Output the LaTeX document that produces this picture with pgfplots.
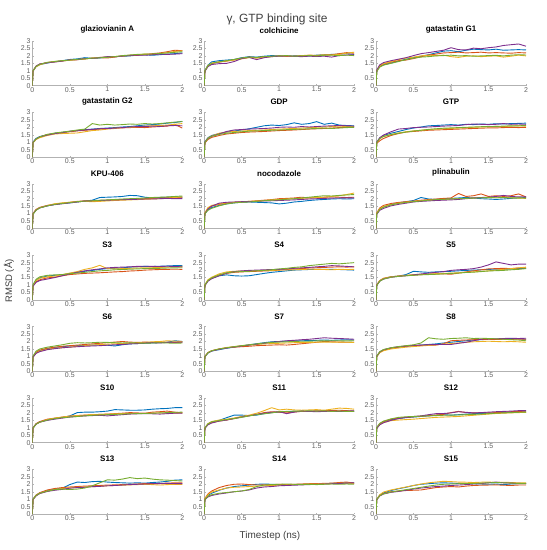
\documentclass[border=0pt]{standalone}
\usepackage{fontspec}
\setmainfont{Liberation Sans}
\usepackage{pgfplots}
\usepackage{pgfplotstable}
\pgfplotsset{compat=1.18}
\definecolor{mb}{rgb}{0,0.447,0.741}
\definecolor{mr}{rgb}{0.85,0.325,0.098}
\definecolor{my}{rgb}{0.929,0.694,0.125}
\definecolor{mp}{rgb}{0.494,0.184,0.556}
\definecolor{mg}{rgb}{0.466,0.674,0.188}
\pgfplotsset{panel/.style={
 scale only axis, width=150bp, height=44.7bp, anchor=south west,
 xmin=0,xmax=2,ymin=0,ymax=3,
 axis x line*=bottom, axis y line*=left,
 axis line style={draw=black!30, line width=0.5bp, -},
 xtick={0,0.5,1,1.5,2}, ytick={0,0.5,1,1.5,2,2.5,3},
 tick style={draw=black!30, line width=0.4bp}, major tick length=1.5bp, tick align=inside,
 tick label style={font=\fontsize{7}{7}\selectfont, text=black!62},
 /pgf/number format/assume math mode=true,
 xticklabel style={inner sep=1.3bp}, yticklabel style={inner sep=1.5bp},
 title style={font=\bfseries\fontsize{8}{8}\selectfont, at={(0.5,1)}, anchor=south, yshift=0.3bp, inner sep=1bp},
 every axis plot/.append style={line width=0.9bp, no marks, line join=round},
}}
\newcommand\panel[4]{%
\begin{axis}[panel, at={(#1bp,#2bp)}, title={#3}]
\addplot[mb] table[x index=0,y index=1]{#4};
\addplot[mr] table[x index=0,y index=2]{#4};
\addplot[my] table[x index=0,y index=3]{#4};
\addplot[mp] table[x index=0,y index=4]{#4};
\addplot[mg] table[x index=0,y index=5]{#4};
\end{axis}}

\pgfplotstableread{
x b r y p g
0    0 0 0 0 0
0.01 1.00 0.98 1.02 0.99 1.00
0.05 1.28 1.30 1.27 1.32 1.29
0.1  1.42 1.45 1.40 1.46 1.43
0.2  1.52 1.55 1.56 1.54 1.57
0.3  1.62 1.60 1.63 1.59 1.62
0.4  1.68 1.66 1.67 1.65 1.68
0.5  1.76 1.72 1.70 1.74 1.72
0.6  1.80 1.74 1.76 1.75 1.77
0.7  1.88 1.80 1.79 1.82 1.80
0.8  1.84 1.85 1.86 1.83 1.85
0.9  1.86 1.88 1.90 1.89 1.87
1.0  1.92 1.86 1.93 1.95 1.91
1.1  1.95 1.92 1.96 1.94 1.95
1.2  1.97 2.00 1.98 1.99 2.02
1.3  2.00 2.02 2.05 2.03 2.06
1.4  2.05 2.04 2.08 2.05 2.10
1.5  2.08 2.10 2.12 2.04 2.12
1.6  2.04 2.15 2.10 2.08 2.13
1.7  2.08 2.20 2.16 2.12 2.16
1.8  2.12 2.28 2.22 2.10 2.20
1.9  2.15 2.38 2.30 2.12 2.24
2.0  2.20 2.35 2.34 2.15 2.28
}\tA
\pgfplotstableread{
x b r y p g
0    0 0 0 0 0
0.01 1.02 0.98 1.00 0.96 1.00
0.05 1.38 1.32 1.35 1.28 1.34
0.1  1.60 1.48 1.52 1.42 1.50
0.2  1.68 1.58 1.60 1.48 1.60
0.3  1.72 1.65 1.66 1.50 1.68
0.4  1.76 1.74 1.72 1.62 1.76
0.5  1.88 1.84 1.80 1.82 1.86
0.6  1.95 1.92 1.88 1.90 1.92
0.7  1.92 1.88 1.85 1.75 1.90
0.8  1.98 1.94 1.90 1.88 1.95
0.9  2.02 1.96 1.95 1.95 1.98
1.0  2.00 2.00 1.98 1.98 2.00
1.1  1.98 1.97 2.00 2.00 2.02
1.2  2.00 1.98 1.96 1.97 1.98
1.3  2.02 2.00 2.02 1.95 2.00
1.4  2.00 2.04 2.05 1.98 2.02
1.5  2.05 2.02 2.04 1.96 2.00
1.6  2.08 2.05 2.08 1.98 2.04
1.7  2.10 2.08 2.06 1.92 2.05
1.8  2.12 2.15 2.10 2.02 2.02
1.9  2.15 2.22 2.18 2.06 2.05
2.0  2.10 2.18 2.25 2.08 2.02
}\tB
\pgfplotstableread{
x b r y p g
0    0 0 0 0 0
0.01 0.98 1.00 1.02 1.05 0.95
0.05 1.30 1.32 1.35 1.40 1.25
0.1  1.40 1.45 1.48 1.55 1.38
0.2  1.52 1.58 1.62 1.68 1.50
0.3  1.65 1.68 1.75 1.78 1.62
0.4  1.78 1.72 1.85 1.88 1.75
0.5  1.88 1.82 1.92 2.02 1.85
0.6  1.98 1.95 2.00 2.15 1.92
0.7  2.08 2.05 2.05 2.22 1.95
0.8  2.20 2.12 2.02 2.30 2.00
0.9  2.32 2.20 2.05 2.38 2.02
1.0  2.35 2.22 1.95 2.55 2.05
1.1  2.28 2.25 1.90 2.42 2.00
1.2  2.38 2.20 1.98 2.40 2.02
1.3  2.45 2.22 2.00 2.52 1.98
1.4  2.42 2.25 1.95 2.48 2.00
1.5  2.40 2.20 1.98 2.55 2.02
1.6  2.45 2.22 2.00 2.60 2.04
1.7  2.38 2.20 1.92 2.70 2.00
1.8  2.40 2.18 1.98 2.75 2.05
1.9  2.42 2.22 2.05 2.80 2.08
2.0  2.40 2.20 2.00 2.65 2.06
}\tC
\pgfplotstableread{
x b r y p g
0    0 0 0 0 0
0.01 1.00 0.98 0.96 1.00 0.98
0.05 1.25 1.20 1.18 1.22 1.22
0.1  1.38 1.35 1.30 1.36 1.36
0.2  1.50 1.52 1.45 1.48 1.52
0.3  1.60 1.58 1.55 1.58 1.62
0.4  1.66 1.65 1.58 1.64 1.68
0.5  1.72 1.70 1.60 1.74 1.74
0.6  1.78 1.76 1.62 1.78 1.82
0.7  1.84 1.80 1.70 1.82 1.88
0.8  1.88 1.84 1.78 1.86 2.25
0.9  1.92 1.88 1.82 1.90 2.15
1.0  1.95 1.92 1.88 1.92 2.20
1.1  1.98 1.95 1.92 1.94 2.15
1.2  2.02 1.96 1.98 1.98 2.18
1.3  2.05 1.98 2.00 2.02 2.22
1.4  2.10 2.00 2.04 2.05 2.20
1.5  2.15 1.98 2.08 2.05 2.25
1.6  2.18 2.02 2.10 2.08 2.22
1.7  2.22 2.05 2.12 2.06 2.25
1.8  2.28 2.08 2.15 2.10 2.30
1.9  2.32 2.20 2.20 2.12 2.35
2.0  2.40 1.95 2.25 2.10 2.38
}\tD
\pgfplotstableread{
x b r y p g
0    0 0 0 0 0
0.01 1.02 0.95 1.00 1.00 0.98
0.05 1.30 1.18 1.28 1.25 1.25
0.1  1.45 1.32 1.42 1.40 1.40
0.2  1.58 1.45 1.60 1.55 1.52
0.3  1.68 1.55 1.68 1.72 1.60
0.4  1.75 1.60 1.72 1.82 1.65
0.5  1.82 1.65 1.75 1.85 1.70
0.6  1.90 1.68 1.78 1.88 1.74
0.7  2.00 1.70 1.80 1.90 1.76
0.8  2.10 1.72 1.82 1.92 1.78
0.9  2.15 1.75 1.85 1.95 1.80
1.0  2.12 1.78 1.88 2.00 1.82
1.1  2.18 1.80 1.90 2.02 1.84
1.2  2.30 1.82 1.92 2.00 1.86
1.3  2.20 1.85 1.95 2.05 1.88
1.4  2.25 1.88 1.98 2.02 1.90
1.5  2.38 1.90 2.00 2.05 1.92
1.6  2.20 1.92 2.02 2.08 1.95
1.7  2.28 1.95 2.05 2.10 1.92
1.8  2.15 1.98 2.08 2.12 1.95
1.9  2.12 2.00 2.05 2.10 1.98
2.0  2.10 2.02 2.04 2.08 2.00
}\tE
\pgfplotstableread{
x b r y p g
0    0 0 0 0 0
0.01 1.00 0.92 0.98 1.00 0.98
0.05 1.28 1.10 1.25 1.30 1.24
0.1  1.45 1.25 1.40 1.48 1.38
0.2  1.60 1.45 1.52 1.70 1.50
0.3  1.72 1.58 1.62 1.88 1.60
0.4  1.85 1.68 1.70 1.92 1.68
0.5  1.95 1.72 1.76 1.98 1.75
0.6  2.02 1.76 1.80 2.00 1.80
0.7  2.10 1.80 1.85 2.02 1.86
0.8  2.12 1.82 1.88 2.05 1.90
0.9  2.15 1.84 1.90 2.08 1.94
1.0  2.18 1.86 1.92 2.10 1.96
1.1  2.15 1.88 1.95 2.12 1.98
1.2  2.20 1.90 1.98 2.18 2.00
1.3  2.18 1.92 2.00 2.22 2.02
1.4  2.22 1.94 2.02 2.20 2.04
1.5  2.20 1.96 2.04 2.18 2.05
1.6  2.24 1.96 2.06 2.20 2.06
1.7  2.22 1.98 2.05 2.25 2.08
1.8  2.25 2.00 2.08 2.20 2.10
1.9  2.26 1.98 2.10 2.22 2.10
2.0  2.28 2.00 2.08 2.20 2.12
}\tF
\pgfplotstableread{
x b r y p g
0    0 0 0 0 0
0.01 0.98 1.00 1.00 0.98 0.96
0.05 1.25 1.28 1.26 1.24 1.22
0.1  1.40 1.42 1.40 1.38 1.38
0.2  1.52 1.55 1.54 1.52 1.52
0.3  1.62 1.64 1.66 1.60 1.62
0.4  1.68 1.70 1.72 1.66 1.68
0.5  1.72 1.76 1.76 1.72 1.74
0.6  1.78 1.82 1.80 1.78 1.80
0.7  1.84 1.86 1.82 1.84 1.84
0.8  1.90 1.84 1.80 1.86 1.86
0.9  2.08 1.88 1.82 1.88 1.90
1.0  2.10 1.90 1.85 1.90 1.92
1.1  2.12 1.92 1.88 1.92 1.95
1.2  2.15 1.94 1.90 1.93 1.98
1.3  2.22 1.96 1.92 1.95 2.00
1.4  2.20 1.98 1.94 1.96 2.02
1.5  2.10 2.00 1.96 1.98 2.05
1.6  2.05 2.02 1.98 1.98 2.08
1.7  2.08 2.05 2.00 2.00 2.10
1.8  2.10 2.06 2.04 2.02 2.12
1.9  2.12 2.08 2.08 2.00 2.15
2.0  2.10 2.10 2.12 2.00 2.18
}\tG
\pgfplotstableread{
x b r y p g
0    0 0 0 0 0
0.01 1.00 1.02 1.05 1.00 0.98
0.05 1.25 1.35 1.40 1.30 1.22
0.1  1.40 1.50 1.55 1.50 1.35
0.2  1.55 1.62 1.65 1.70 1.52
0.3  1.65 1.70 1.72 1.76 1.65
0.4  1.72 1.75 1.76 1.78 1.72
0.5  1.76 1.78 1.80 1.80 1.76
0.6  1.78 1.82 1.82 1.80 1.78
0.7  1.76 1.86 1.85 1.82 1.82
0.8  1.74 1.90 1.88 1.85 1.86
0.9  1.72 1.94 1.92 1.86 1.90
1.0  1.65 2.00 1.95 1.88 1.92
1.1  1.70 2.02 1.98 1.90 1.96
1.2  1.78 2.05 2.00 1.92 2.00
1.3  1.82 2.10 2.02 1.95 2.05
1.4  1.88 2.05 2.05 1.98 2.10
1.5  1.92 2.08 2.08 2.00 2.15
1.6  1.95 2.10 2.10 2.02 2.20
1.7  1.98 2.12 2.15 2.04 2.18
1.8  2.00 2.10 2.20 2.05 2.22
1.9  1.98 2.08 2.28 2.06 2.25
2.0  2.00 2.10 2.38 2.05 2.28
}\tH
\pgfplotstableread{
x b r y p g
0    0 0 0 0 0
0.01 1.00 1.05 1.02 0.95 0.98
0.05 1.30 1.38 1.32 1.22 1.28
0.1  1.45 1.55 1.48 1.35 1.42
0.2  1.62 1.68 1.60 1.52 1.58
0.3  1.72 1.75 1.70 1.62 1.68
0.4  1.80 1.80 1.76 1.70 1.75
0.5  1.88 1.84 1.82 1.78 1.80
0.6  2.08 1.90 1.86 1.82 1.85
0.7  1.98 1.94 1.90 1.85 1.90
0.8  1.95 1.98 1.92 1.88 1.94
0.9  2.00 2.02 1.95 1.90 1.96
1.0  2.02 2.05 1.98 1.92 1.98
1.1  2.05 2.35 2.00 1.95 2.00
1.2  2.08 2.15 2.02 2.00 2.02
1.3  2.05 2.20 2.05 2.05 2.04
1.4  2.00 2.32 2.08 2.08 2.06
1.5  1.98 2.15 2.06 2.10 2.08
1.6  1.95 2.20 2.10 2.15 2.06
1.7  1.98 2.15 2.08 2.22 2.08
1.8  2.02 2.20 2.06 2.15 2.05
1.9  2.05 2.32 2.04 2.12 2.06
2.0  2.08 2.12 2.02 2.12 2.04
}\tI
\pgfplotstableread{
x b r y p g
0    0 0 0 0 0
0.01 1.00 0.95 1.00 0.92 1.02
0.05 1.32 1.22 1.30 1.18 1.38
0.1  1.48 1.35 1.45 1.30 1.55
0.2  1.60 1.48 1.55 1.40 1.65
0.3  1.65 1.52 1.60 1.50 1.68
0.4  1.68 1.62 1.70 1.62 1.70
0.5  1.78 1.70 1.80 1.75 1.76
0.6  1.85 1.74 1.90 1.85 1.80
0.7  1.92 1.78 2.05 1.95 1.85
0.8  1.98 1.80 2.15 2.02 1.90
0.9  2.05 1.82 2.32 2.08 1.95
1.0  2.10 1.85 2.10 2.15 1.98
1.1  2.12 1.88 2.08 2.18 2.02
1.2  2.15 1.90 2.10 2.20 2.04
1.3  2.20 1.94 2.12 2.22 2.06
1.4  2.22 1.96 2.14 2.25 2.08
1.5  2.25 2.00 2.15 2.26 2.10
1.6  2.24 2.02 2.16 2.25 2.12
1.7  2.26 2.04 2.18 2.24 2.12
1.8  2.28 2.05 2.20 2.26 2.14
1.9  2.30 2.06 2.22 2.24 2.15
2.0  2.30 2.05 2.25 2.22 2.16
}\tJ
\pgfplotstableread{
x b r y p g
0    0 0 0 0 0
0.01 1.00 0.98 1.02 0.96 1.00
0.05 1.30 1.28 1.35 1.25 1.30
0.1  1.45 1.45 1.52 1.42 1.48
0.2  1.62 1.65 1.75 1.62 1.68
0.3  1.68 1.78 1.88 1.80 1.82
0.4  1.62 1.85 1.92 1.90 1.88
0.5  1.60 1.88 1.94 1.95 1.90
0.6  1.62 1.90 1.95 1.98 1.92
0.7  1.70 1.92 1.96 2.00 1.95
0.8  1.78 1.94 1.98 2.02 1.98
0.9  1.85 1.96 1.98 2.04 2.02
1.0  1.90 2.00 2.00 2.05 2.08
1.1  1.95 2.04 2.02 2.08 2.12
1.2  2.00 2.08 2.02 2.12 2.18
1.3  2.02 2.10 2.04 2.15 2.22
1.4  2.04 2.14 2.06 2.18 2.30
1.5  2.05 2.16 2.05 2.22 2.35
1.6  2.06 2.18 2.04 2.25 2.40
1.7  2.05 2.20 2.02 2.30 2.45
1.8  2.04 2.22 2.05 2.28 2.42
1.9  2.02 2.20 2.04 2.25 2.46
2.0  2.00 2.22 2.05 2.22 2.50
}\tK
\pgfplotstableread{
x b r y p g
0    0 0 0 0 0
0.01 0.98 1.00 1.00 0.98 0.96
0.05 1.28 1.30 1.30 1.26 1.25
0.1  1.42 1.45 1.44 1.40 1.40
0.2  1.55 1.55 1.55 1.52 1.52
0.3  1.60 1.60 1.60 1.58 1.58
0.4  1.70 1.64 1.65 1.62 1.62
0.5  1.92 1.66 1.70 1.68 1.65
0.6  1.88 1.70 1.72 1.74 1.68
0.7  1.85 1.72 1.74 1.80 1.70
0.8  1.88 1.74 1.76 1.85 1.72
0.9  1.90 1.75 1.78 1.90 1.75
1.0  1.92 1.72 1.80 1.98 1.78
1.1  1.95 1.80 1.82 2.02 1.80
1.2  1.98 1.88 1.85 2.05 1.84
1.3  2.00 1.95 1.88 2.10 1.86
1.4  2.02 2.02 1.92 2.20 1.90
1.5  2.05 2.08 1.95 2.35 1.94
1.6  2.06 2.10 2.00 2.55 1.96
1.7  2.05 2.12 2.05 2.45 1.98
1.8  2.08 2.10 2.10 2.35 2.02
1.9  2.10 2.14 2.15 2.40 2.05
2.0  2.12 2.15 2.20 2.40 2.10
}\tL
\pgfplotstableread{
x b r y p g
0    0 0 0 0 0
0.01 0.98 1.00 0.96 0.95 1.02
0.05 1.25 1.28 1.22 1.20 1.35
0.1  1.38 1.42 1.35 1.32 1.50
0.2  1.52 1.55 1.48 1.45 1.62
0.3  1.60 1.62 1.55 1.52 1.70
0.4  1.65 1.68 1.58 1.58 1.78
0.5  1.70 1.72 1.62 1.62 1.88
0.6  1.72 1.76 1.68 1.65 1.92
0.7  1.74 1.80 1.72 1.68 1.90
0.8  1.76 1.84 1.76 1.70 1.92
0.9  1.78 1.88 1.80 1.72 1.95
1.0  1.75 1.92 1.82 1.75 1.94
1.1  1.70 1.96 1.85 1.78 1.92
1.2  1.78 2.00 1.86 1.80 1.90
1.3  1.84 1.96 1.88 1.84 1.92
1.4  1.86 1.94 1.90 1.86 1.90
1.5  1.88 1.96 1.94 1.90 1.88
1.6  1.90 1.94 1.98 1.92 1.90
1.7  1.92 1.96 2.00 1.90 1.92
1.8  1.95 1.95 2.05 1.94 1.90
1.9  2.05 1.94 2.02 1.95 1.88
2.0  2.00 1.95 2.00 1.96 1.90
}\tM
\pgfplotstableread{
x b r y p g
0    0 0 0 0 0
0.01 0.98 1.00 1.00 0.98 0.98
0.05 1.22 1.25 1.25 1.24 1.24
0.1  1.36 1.38 1.38 1.36 1.38
0.2  1.45 1.50 1.50 1.48 1.50
0.3  1.55 1.58 1.60 1.56 1.58
0.4  1.62 1.62 1.66 1.64 1.65
0.5  1.70 1.65 1.72 1.70 1.72
0.6  1.78 1.68 1.76 1.76 1.78
0.7  1.85 1.72 1.80 1.82 1.84
0.8  1.92 1.74 1.84 1.88 1.90
0.9  1.98 1.76 1.86 1.95 1.94
1.0  2.00 1.78 1.88 2.00 1.96
1.1  2.02 1.76 1.90 2.05 1.98
1.2  2.04 1.80 1.92 2.08 2.00
1.3  2.05 1.85 1.92 2.12 2.02
1.4  2.06 1.90 1.94 2.15 2.02
1.5  2.08 1.95 1.95 2.20 2.04
1.6  2.10 2.00 1.96 2.25 2.04
1.7  2.08 1.98 1.95 2.22 2.05
1.8  2.10 1.96 1.96 2.20 2.05
1.9  2.12 1.95 1.95 2.18 2.04
2.0  2.10 1.95 1.94 2.15 2.05
}\tN
\pgfplotstableread{
x b r y p g
0    0 0 0 0 0
0.01 1.00 1.00 0.98 1.00 1.02
0.05 1.28 1.28 1.25 1.30 1.32
0.1  1.42 1.42 1.38 1.45 1.46
0.2  1.55 1.55 1.50 1.58 1.58
0.3  1.62 1.62 1.56 1.65 1.66
0.4  1.68 1.68 1.62 1.70 1.72
0.5  1.72 1.72 1.66 1.74 1.78
0.6  1.76 1.74 1.70 1.76 1.90
0.7  1.80 1.76 1.74 1.78 2.25
0.8  1.84 1.76 1.78 1.80 2.18
0.9  1.90 1.85 1.82 1.80 2.15
1.0  1.95 2.05 1.86 1.80 2.20
1.1  2.00 2.08 1.90 1.88 2.22
1.2  2.05 2.10 1.94 1.95 2.25
1.3  2.10 2.12 1.98 2.05 2.20
1.4  2.12 2.14 2.00 2.15 2.22
1.5  2.15 2.15 2.02 2.20 2.20
1.6  2.15 2.14 2.00 2.18 2.18
1.7  2.18 2.15 1.98 2.20 2.15
1.8  2.20 2.14 2.00 2.22 2.12
1.9  2.18 2.16 1.98 2.20 2.10
2.0  2.15 2.15 1.95 2.22 2.05
}\tO
\pgfplotstableread{
x b r y p g
0    0 0 0 0 0
0.01 1.00 1.00 0.98 0.98 0.98
0.05 1.25 1.28 1.25 1.24 1.24
0.1  1.40 1.42 1.38 1.38 1.38
0.2  1.52 1.58 1.55 1.50 1.52
0.3  1.62 1.65 1.65 1.58 1.62
0.4  1.70 1.72 1.72 1.65 1.68
0.5  1.80 1.78 1.78 1.72 1.72
0.6  2.02 1.82 1.82 1.76 1.76
0.7  2.05 1.85 1.85 1.80 1.80
0.8  2.05 1.88 1.88 1.82 1.84
0.9  2.08 1.90 1.90 1.84 1.86
1.0  2.12 1.92 1.92 1.80 1.88
1.1  2.22 1.95 1.94 1.84 1.90
1.2  2.20 1.98 1.95 1.88 1.92
1.3  2.18 2.02 1.96 1.92 1.94
1.4  2.18 2.00 1.96 1.94 1.95
1.5  2.20 1.98 1.96 1.95 1.96
1.6  2.25 2.05 1.98 1.94 1.98
1.7  2.28 2.08 2.00 1.92 2.00
1.8  2.30 2.12 1.98 1.95 2.02
1.9  2.35 2.05 1.98 1.98 2.04
2.0  2.35 2.00 2.00 1.98 2.05
}\tP
\pgfplotstableread{
x b r y p g
0    0 0 0 0 0
0.01 0.98 0.98 1.00 0.96 1.00
0.05 1.25 1.22 1.28 1.20 1.26
0.1  1.40 1.35 1.42 1.32 1.40
0.2  1.50 1.45 1.52 1.45 1.48
0.3  1.68 1.52 1.58 1.52 1.55
0.4  1.85 1.62 1.66 1.62 1.62
0.5  1.85 1.74 1.76 1.72 1.70
0.6  1.82 1.82 1.85 1.80 1.80
0.7  1.85 1.90 1.98 1.90 1.88
0.8  1.95 2.02 2.15 1.98 1.94
0.9  2.02 2.08 2.35 2.04 2.00
1.0  2.05 2.05 2.20 2.08 2.08
1.1  2.08 2.00 2.25 1.95 2.10
1.2  2.10 2.06 2.20 2.05 2.12
1.3  2.12 2.10 2.18 2.12 2.12
1.4  2.10 2.12 2.20 2.10 2.14
1.5  2.12 2.14 2.22 2.08 2.12
1.6  2.14 2.15 2.18 2.10 2.14
1.7  2.12 2.16 2.25 2.12 2.10
1.8  2.10 2.18 2.32 2.10 2.12
1.9  2.12 2.15 2.30 2.12 2.10
2.0  2.10 2.12 2.25 2.14 2.10
}\tQ
\pgfplotstableread{
x b r y p g
0    0 0 0 0 0
0.01 1.00 1.00 0.98 0.96 1.02
0.05 1.26 1.28 1.22 1.20 1.30
0.1  1.40 1.42 1.35 1.34 1.45
0.2  1.55 1.58 1.48 1.50 1.60
0.3  1.62 1.66 1.52 1.62 1.70
0.4  1.68 1.70 1.55 1.70 1.74
0.5  1.72 1.74 1.58 1.76 1.76
0.6  1.76 1.78 1.62 1.80 1.78
0.7  1.80 1.82 1.66 1.88 1.80
0.8  1.84 1.86 1.70 1.95 1.82
0.9  1.88 1.90 1.72 1.96 1.84
1.0  1.85 2.02 1.74 2.00 1.85
1.1  1.88 2.10 1.76 2.08 1.86
1.2  1.92 2.02 1.80 2.04 1.88
1.3  1.95 2.00 1.84 2.00 1.90
1.4  1.96 2.02 1.88 2.02 1.92
1.5  1.98 2.00 1.92 2.05 1.95
1.6  2.00 2.02 1.96 2.08 1.98
1.7  2.02 2.05 1.98 2.10 2.00
1.8  2.04 2.08 2.00 2.12 2.02
1.9  2.06 2.10 2.02 2.15 2.04
2.0  2.08 2.06 2.04 2.15 2.05
}\tR
\pgfplotstableread{
x b r y p g
0    0 0 0 0 0
0.01 1.00 1.00 0.98 0.98 1.00
0.05 1.26 1.28 1.24 1.22 1.25
0.1  1.42 1.44 1.40 1.38 1.40
0.2  1.58 1.62 1.55 1.52 1.54
0.3  1.68 1.72 1.65 1.60 1.64
0.4  1.74 1.78 1.72 1.66 1.68
0.5  1.98 1.82 1.76 1.74 1.65
0.6  2.15 1.85 1.80 1.78 1.68
0.7  2.12 1.88 1.82 1.80 1.75
0.8  2.18 1.90 1.84 1.84 1.90
0.9  2.20 1.92 1.86 1.86 2.10
1.0  2.15 1.95 1.90 1.90 2.30
1.1  2.12 1.96 1.92 1.92 2.28
1.2  2.10 1.98 1.94 1.95 2.35
1.3  2.08 2.00 1.96 1.98 2.45
1.4  2.10 2.02 1.98 2.00 2.38
1.5  2.08 2.05 2.00 2.02 2.42
1.6  2.12 2.05 1.98 2.04 2.35
1.7  2.15 2.06 1.95 2.05 2.30
1.8  2.20 2.08 1.98 2.06 2.28
1.9  2.28 2.10 2.00 2.05 2.25
2.0  2.30 2.10 2.00 2.05 2.22
}\tS
\pgfplotstableread{
x b r y p g
0    0 0 0 0 0
0.01 1.00 1.05 1.02 0.95 0.98
0.05 1.25 1.35 1.30 1.15 1.20
0.1  1.40 1.55 1.48 1.25 1.30
0.2  1.60 1.78 1.62 1.35 1.40
0.3  1.75 1.92 1.75 1.42 1.45
0.4  1.85 2.00 1.80 1.50 1.50
0.5  1.90 2.02 1.82 1.55 1.55
0.6  1.95 1.98 1.85 1.62 1.65
0.7  2.00 1.95 1.88 1.75 1.85
0.8  2.02 1.96 1.90 1.82 1.95
0.9  2.00 1.98 1.92 1.85 1.98
1.0  1.98 2.00 1.94 1.90 2.00
1.1  1.96 1.98 1.96 1.92 2.02
1.2  1.98 2.00 1.98 1.94 2.00
1.3  2.00 2.02 2.00 1.96 1.98
1.4  2.02 2.04 2.02 1.98 2.00
1.5  2.04 2.05 2.02 2.00 1.98
1.6  2.05 2.06 2.04 2.02 2.00
1.7  2.06 2.08 2.05 2.04 2.02
1.8  2.08 2.12 2.06 2.05 2.00
1.9  2.10 2.15 2.08 2.08 2.02
2.0  2.10 2.08 2.06 2.10 2.00
}\tT
\pgfplotstableread{
x b r y p g
0    0 0 0 0 0
0.01 1.00 0.98 1.00 0.96 0.98
0.05 1.28 1.24 1.30 1.22 1.24
0.1  1.42 1.38 1.48 1.35 1.36
0.2  1.58 1.50 1.62 1.46 1.48
0.3  1.70 1.55 1.72 1.52 1.56
0.4  1.80 1.58 1.82 1.60 1.64
0.5  1.92 1.60 1.92 1.68 1.72
0.6  2.00 1.62 2.02 1.75 1.80
0.7  2.04 1.70 2.10 1.80 1.88
0.8  2.08 1.78 2.15 1.85 1.95
0.9  2.10 1.82 2.20 1.88 2.00
1.0  2.08 1.85 2.18 1.92 2.02
1.1  2.06 1.82 2.15 1.95 2.04
1.2  2.05 1.88 2.14 1.98 2.05
1.3  2.04 1.92 2.12 2.02 2.06
1.4  2.02 1.94 2.14 2.05 2.08
1.5  2.00 1.95 2.15 2.10 2.10
1.6  2.02 1.96 2.12 2.15 2.12
1.7  1.98 1.94 2.14 2.10 2.10
1.8  2.02 1.92 2.12 2.08 2.08
1.9  2.04 1.95 2.10 2.06 2.06
2.0  2.05 1.95 2.10 2.05 2.06
}\tU

\begin{document}
\begin{tikzpicture}
\path[use as bounding box] (0,0) rectangle (547bp,550bp);
\panel{32.3}{464.3}{glaziovianin A}{\tA}
\panel{204.15}{464.3}{colchicine}{\tB}
\panel{376}{464.3}{gatastatin G1}{\tC}
\panel{32.3}{392.9}{gatastatin G2}{\tD}
\panel{204.15}{392.9}{GDP}{\tE}
\panel{376}{392.9}{GTP}{\tF}
\panel{32.3}{321.5}{KPU-406}{\tG}
\panel{204.15}{321.5}{nocodazole}{\tH}
\panel{376}{321.5}{plinabulin}{\tI}
\panel{32.3}{250.1}{S3}{\tJ}
\panel{204.15}{250.1}{S4}{\tK}
\panel{376}{250.1}{S5}{\tL}
\panel{32.3}{178.7}{S6}{\tM}
\panel{204.15}{178.7}{S7}{\tN}
\panel{376}{178.7}{S8}{\tO}
\panel{32.3}{107.3}{S10}{\tP}
\panel{204.15}{107.3}{S11}{\tQ}
\panel{376}{107.3}{S12}{\tR}
\panel{32.3}{35.9}{S13}{\tS}
\panel{204.15}{35.9}{S14}{\tT}
\panel{376}{35.9}{S15}{\tU}
\node[font=\fontsize{12}{13}\selectfont, text=black!75] at (277bp,531bp) {γ, GTP binding site};
\node[font=\fontsize{9.5}{10}\selectfont, text=black!75, rotate=90] at (9bp,269bp) {RMSD (Å)};
\node[font=\fontsize{10}{11}\selectfont, text=black!75] at (270bp,14bp) {Timestep (ns)};
\end{tikzpicture}
\end{document}
